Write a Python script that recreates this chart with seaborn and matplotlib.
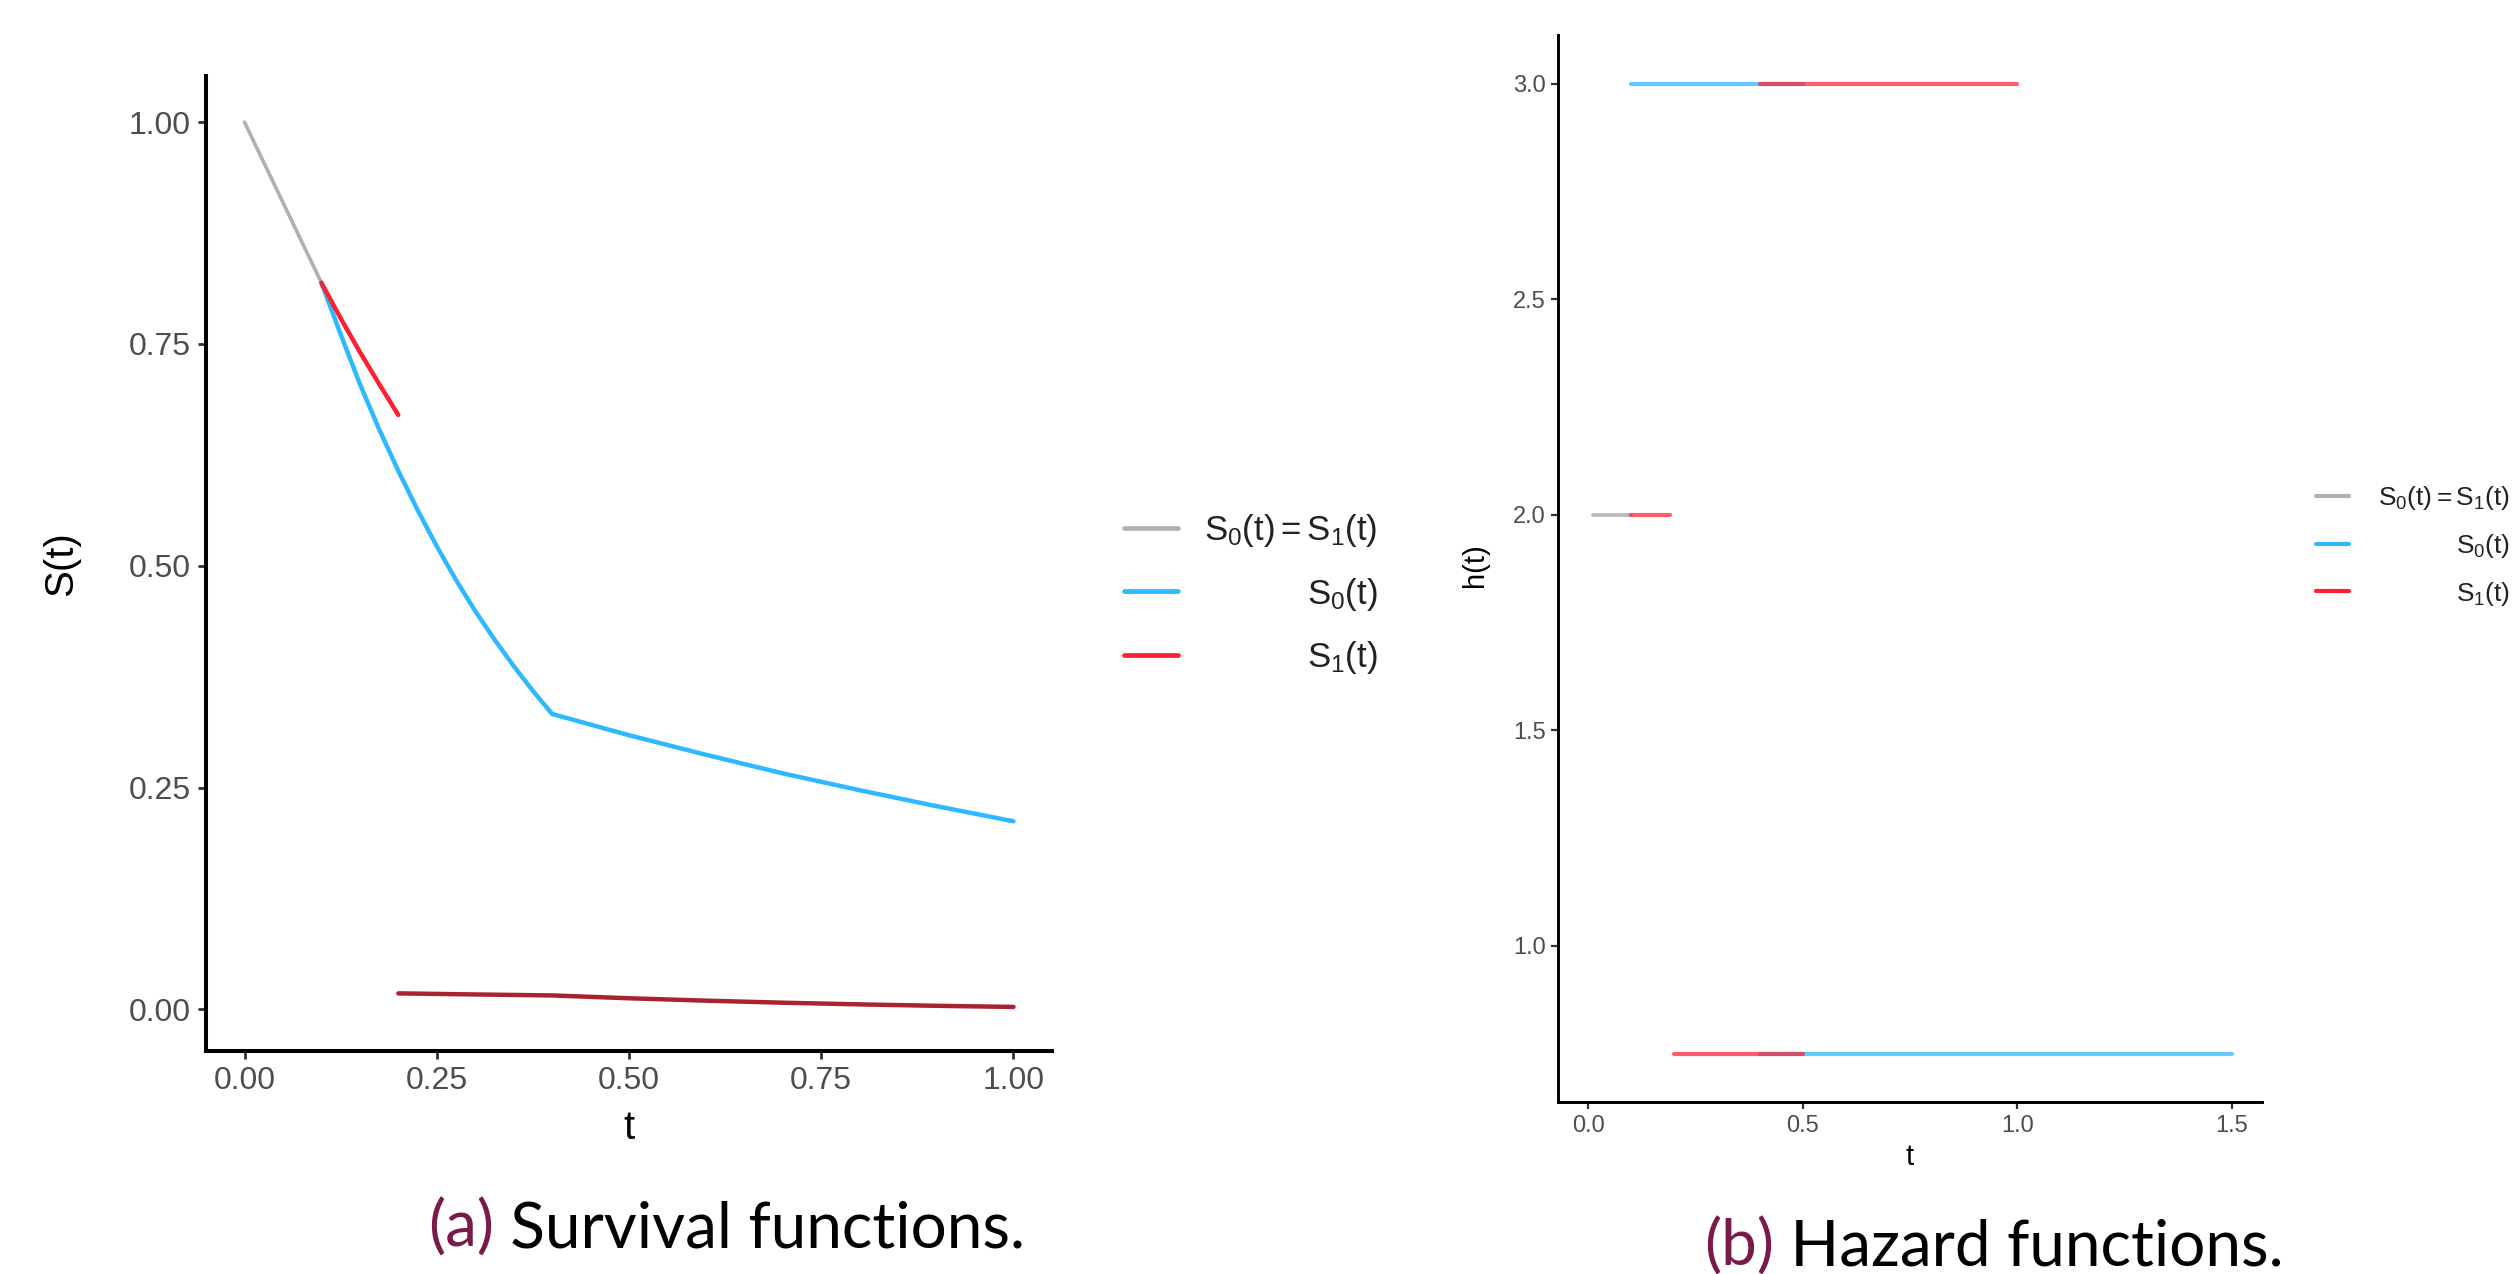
import matplotlib
matplotlib.use("Agg")
import matplotlib.pyplot as plt
import seaborn as sns
from matplotlib.lines import Line2D

# ---------------- data ----------------
# (a) survival functions
t_equal = [0.0, 0.1]
s_equal = [1.0, 0.819]

t_s1_early = [0.1, 0.125, 0.15, 0.175, 0.2]
s_s1_early = [0.819, 0.779, 0.741, 0.705, 0.670]

t_s0 = [0.1, 0.125, 0.15, 0.175, 0.2, 0.225, 0.25, 0.275, 0.3, 0.325, 0.35,
        0.375, 0.4, 0.5, 0.6, 0.7, 0.8, 0.9, 1.0]
s_s0 = [0.819, 0.761, 0.705, 0.654, 0.607, 0.563, 0.522, 0.484, 0.449, 0.417,
        0.387, 0.359, 0.333, 0.309, 0.287, 0.266, 0.247, 0.229, 0.212]

t_s1_late = [0.2, 0.3, 0.4, 0.5, 0.6, 0.7, 0.8, 0.9, 1.0]
s_s1_late = [0.018, 0.0168, 0.0157, 0.0125, 0.0098, 0.0075, 0.0056, 0.0040, 0.0027]

# (b) hazard functions: (start, end, level)
h_equal = [(0.01, 0.10, 2.0)]
h_s0 = [(0.10, 0.50, 3.0), (0.40, 1.50, 0.75)]
h_s1 = [(0.10, 0.19, 2.0), (0.20, 0.50, 0.75), (0.40, 1.00, 3.0)]

surv_xticks = [0.0, 0.25, 0.5, 0.75, 1.0]
surv_xlabels = ["0.00", "0.25", "0.50", "0.75", "1.00"]
surv_yticks = [0.0, 0.25, 0.5, 0.75, 1.0]
surv_ylabels = ["0.00", "0.25", "0.50", "0.75", "1.00"]
haz_xticks = [0.0, 0.5, 1.0, 1.5]
haz_xlabels = ["0.0", "0.5", "1.0", "1.5"]
haz_yticks = [1.0, 1.5, 2.0, 2.5, 3.0]
haz_ylabels = ["1.0", "1.5", "2.0", "2.5", "3.0"]

legend_labels = [r"$\mathregular{S_0(t) = S_1(t)}$",
                 r"$\mathregular{S_0(t)}$",
                 r"$\mathregular{S_1(t)}$"]

# ---------------- style ----------------
sns.set_theme(style="ticks")
plt.rcParams["font.family"] = ["Liberation Sans", "DejaVu Sans"]
plt.rcParams["mathtext.fontset"] = "custom"
plt.rcParams["mathtext.rm"] = "Liberation Sans"
plt.rcParams["mathtext.it"] = "Liberation Sans:italic"

C_GRAY = "#B0B0B0"
C_BLUE = "#2DB8FF"
C_RED = "#FF1F33"
C_DARKRED = "#A82231"
C_TICK = "#4D4D4D"
C_CAP = "#7A1A4A"

fig = plt.figure(figsize=(25.19, 12.74), dpi=100)
ax1 = fig.add_axes([0.0818, 0.175, 0.3358, 0.7653])
ax2 = fig.add_axes([0.6185, 0.135, 0.2795, 0.8375])

# ---------------- (a) survival ----------------
sns.lineplot(x=t_equal, y=s_equal, color=C_GRAY, lw=2.6, ax=ax1)
sns.lineplot(x=t_s0, y=s_s0, color=C_BLUE, lw=3.2, ax=ax1)
sns.lineplot(x=t_s1_early, y=s_s1_early, color=C_RED, lw=3.2, ax=ax1)
sns.lineplot(x=t_s1_late, y=s_s1_late, color=C_DARKRED, lw=3.2, ax=ax1)

ax1.set_xlim(-0.05, 1.05)
ax1.set_ylim(-0.047, 1.052)
ax1.set_xticks(surv_xticks, surv_xlabels)
ax1.set_yticks(surv_yticks, surv_ylabels)
ax1.tick_params(labelsize=23, labelcolor=C_TICK, length=6, width=2.0,
                color="#333333", pad=5)
ax1.set_xlabel("t", fontsize=29, color="black")
ax1.set_ylabel("S(t)", fontsize=29, color="black")
ax1.xaxis.set_label_coords(0.5, -0.079)
ax1.yaxis.set_label_coords(-0.171, 0.5)
ax1.xaxis.label.set_va("center")
ax1.yaxis.label.set_va("center")
for s in ["left", "bottom"]:
    ax1.spines[s].set_linewidth(2.9)
    ax1.spines[s].set_color("black")
sns.despine(ax=ax1)

# ---------------- (b) hazard ----------------
for a, b, h in h_equal:
    sns.lineplot(x=[a, b], y=[h, h], color=C_GRAY, lw=2.8, alpha=0.85, ax=ax2)
for a, b, h in h_s0:
    sns.lineplot(x=[a, b], y=[h, h], color=C_BLUE, lw=3.0, alpha=0.75, ax=ax2)
for a, b, h in h_s1:
    sns.lineplot(x=[a, b], y=[h, h], color=C_RED, lw=3.0, alpha=0.72, ax=ax2)

ax2.set_xlim(-0.071, 1.571)
ax2.set_ylim(0.6375, 3.1125)
ax2.set_xticks(haz_xticks, haz_xlabels)
ax2.set_yticks(haz_yticks, haz_ylabels)
ax2.tick_params(labelsize=17, labelcolor=C_TICK, length=5, width=1.6,
                color="#333333", pad=4)
ax2.set_xlabel("t", fontsize=21, color="black")
ax2.set_ylabel("h(t)", fontsize=21, color="black")
ax2.xaxis.set_label_coords(0.5, -0.0515)
ax2.yaxis.set_label_coords(-0.118, 0.503)
ax2.xaxis.label.set_va("center")
ax2.yaxis.label.set_va("center")
for s in ["left", "bottom"]:
    ax2.spines[s].set_linewidth(2.1)
    ax2.spines[s].set_color("black")
sns.despine(ax=ax2)

# ---------------- legends ----------------
def make_handles(lw):
    return [Line2D([], [], color=C_GRAY, lw=lw),
            Line2D([], [], color=C_BLUE, lw=lw),
            Line2D([], [], color=C_RED, lw=lw)]

leg1 = fig.legend(make_handles(3.4), legend_labels, loc="center left",
                  bbox_to_anchor=(1124 / 2519, 1 - 594 / 1274), frameon=False,
                  fontsize=25, handlelength=1.55, handletextpad=0.75,
                  labelspacing=0.76, borderpad=0, borderaxespad=0)
leg2 = fig.legend(make_handles(3.0), legend_labels, loc="center left",
                  bbox_to_anchor=(2316 / 2519, 1 - 546 / 1274), frameon=False,
                  fontsize=19, handlelength=1.25, handletextpad=1.1,
                  labelspacing=0.74, borderpad=0, borderaxespad=0)
for leg in (leg1, leg2):
    for t in leg.get_texts():
        t.set_color("#222222")

# ---------------- captions ----------------
cap_font = ["Lato", "DejaVu Sans"]
cap_kw = dict(fontsize=46, family=cap_font, fontweight="normal", va="baseline")
c1a = fig.text(0, 1 - 1247 / 1274, "(a)", color=C_CAP, **cap_kw)
c1b = fig.text(0, 1 - 1247 / 1274, " Survival functions.", color="black", **cap_kw)
c2a = fig.text(0, 1 - 1266 / 1274, "(b)", color=C_CAP, **cap_kw)
c2b = fig.text(0, 1 - 1266 / 1274, " Hazard functions.", color="black", **cap_kw)

fig.canvas.draw()
r = fig.canvas.get_renderer()

# right-align legend labels
for leg in (leg1, leg2):
    ws = [t.get_window_extent(r).width for t in leg.get_texts()]
    W = max(ws)
    for t, w in zip(leg.get_texts(), ws):
        t.set_position((W - w, 0))

# center caption pairs
FW = fig.bbox.width
for ta, tb, cx in ((c1a, c1b, 727), (c2a, c2b, 1994)):
    wa = ta.get_window_extent(r).width
    wb = tb.get_window_extent(r).width
    x0 = cx - (wa + wb) / 2
    ta.set_x(x0 / FW)
    tb.set_x((x0 + wa) / FW)

fig.savefig("out.png", dpi=100, facecolor="white")
